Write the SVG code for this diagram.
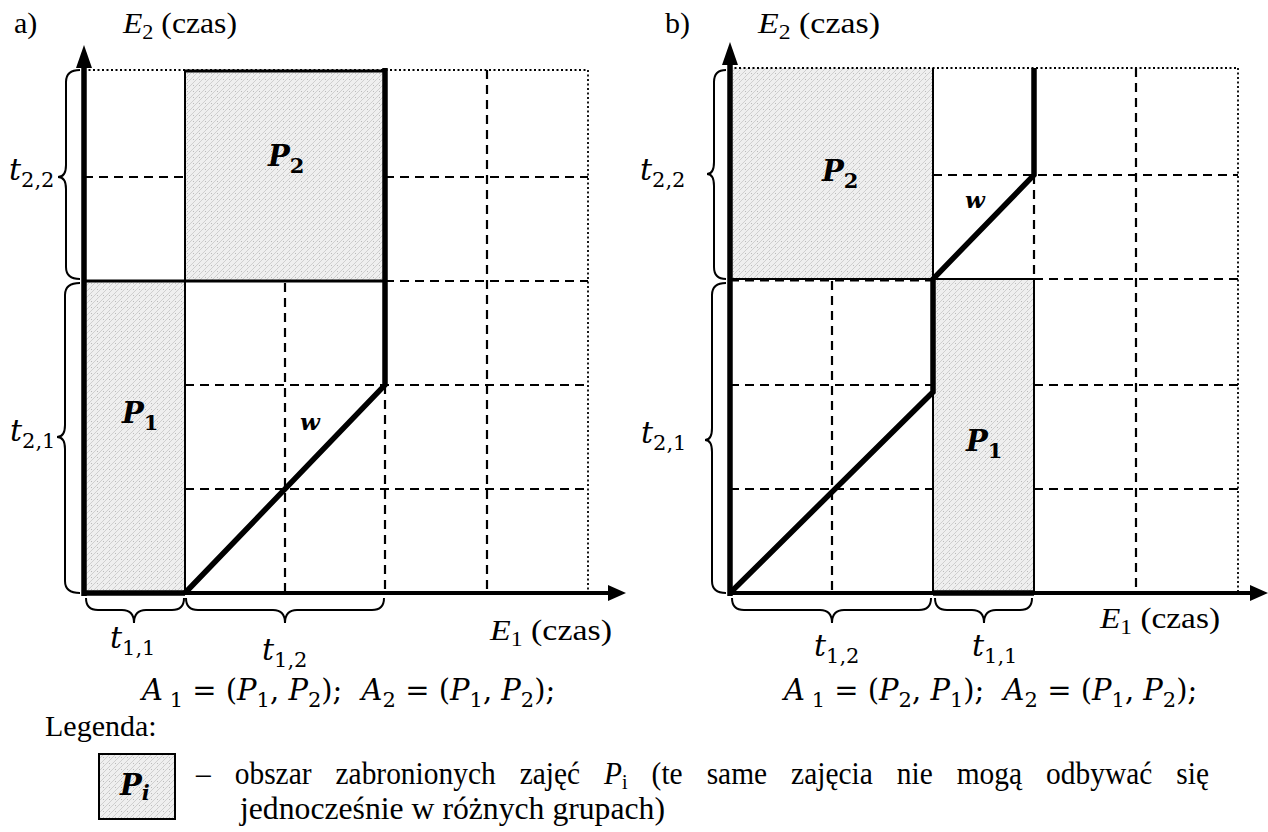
<svg xmlns="http://www.w3.org/2000/svg" width="1268" height="832" viewBox="0 0 1268 832">
<defs>
<pattern id="hatch" width="6" height="6" patternUnits="userSpaceOnUse">
<rect width="6" height="6" fill="#efefef"/>
<path d="M0,6 L6,0" stroke="#c6c6c6" stroke-width="0.8"/>
<circle cx="1.5" cy="1.5" r="0.5" fill="#aaa"/>
</pattern>
</defs>
<style>
.dash{stroke:#000;stroke-width:2.2;stroke-dasharray:9 6;fill:none}
.dot{stroke:#000;stroke-width:1.8;stroke-dasharray:2 2.5;fill:none}
.thin{stroke:#000;stroke-width:2;fill:none}
.thick{stroke:#000;stroke-width:5.5;fill:none;stroke-linejoin:miter}
.ax{stroke:#000;stroke-width:4;fill:none}
.br{stroke:#000;stroke-width:2;fill:none}
.shade{fill:url(#hatch);stroke:none}
text{font-family:"Liberation Serif","Times New Roman",serif;fill:#000}
.t{font-size:30px}
.it{font-style:italic}
.sub{font-size:21px;font-style:normal}
.mth{font-family:"DejaVu Serif","Liberation Serif",serif;font-size:29px}
.tl{font-family:"DejaVu Serif","Liberation Serif",serif;font-size:30px;font-style:italic}
.msub{font-size:21px;font-style:normal}
.lb{font-family:"DejaVu Serif","Liberation Serif",serif;font-size:29px;font-style:italic;font-weight:bold}
.lbs{font-size:21px;font-weight:bold;font-style:normal}
.leg{font-size:31px}
</style>

<!-- ===== Panel a ===== -->
<g id="panel-a-areas">
<rect class="shade" x="185" y="70" width="200" height="211"/>
<rect class="shade" x="84" y="281" width="101" height="312"/>
</g>
<g id="panel-a-grid">
<line class="dot" x1="84" y1="70" x2="588" y2="70"/>
<line class="dot" x1="588" y1="70" x2="588" y2="593"/>
<line class="dash" x1="84" y1="177" x2="185" y2="177"/>
<line class="dash" x1="385" y1="177" x2="588" y2="177"/>
<line class="dash" x1="385" y1="281" x2="588" y2="281"/>
<line class="dash" x1="185" y1="385" x2="588" y2="385"/>
<line class="dash" x1="185" y1="489" x2="588" y2="489"/>
<line class="dash" x1="285" y1="283" x2="285" y2="593"/>
<line class="dash" x1="385" y1="385" x2="385" y2="593"/>
<line class="dash" x1="487" y1="70" x2="487" y2="593"/>
</g>
<g id="node-a-P2">
<line class="thin" x1="185" y1="70" x2="185" y2="281"/>
<line class="thin" x1="185" y1="71" x2="385" y2="71" style="stroke-width:3"/>
<line class="thin" x1="84" y1="281" x2="385" y2="281" style="stroke-width:3"/>
<text class="lb" x="268" y="166">P<tspan class="lbs" dy="7">2</tspan></text>
</g>
<g id="node-a-P1">
<line class="thin" x1="185" y1="281" x2="185" y2="593"/>
<text class="lb" x="122" y="423">P<tspan class="lbs" dy="7">1</tspan></text>
</g>
<g id="connectors-a">
<line class="ax" x1="84" y1="593" x2="610" y2="593"/>
<polygon points="626,593 608,585 608,601" fill="#000"/>
<line class="thick" x1="84" y1="596" x2="84" y2="64"/>
<polygon points="84,45 76,68 92,68" fill="#000"/>
<line class="thick" x1="84" y1="593" x2="185" y2="593"/>
<polyline class="thick" points="185,593 385,385 385,68"/>
<text class="lb" x="300" y="430" style="font-size:23px">w</text>
</g>
<g id="braces-a">
<path class="br" d="M80,70 Q66,70 66,82 L66,165 Q66,177 58,177 Q66,177 66,189 L66,267 Q66,279 80,279"/>
<path class="br" d="M80,283 Q65,283 65,295 L65,425 Q65,437 57,437 Q65,437 65,449 L65,581 Q65,593 80,593"/>
<path class="br" d="M86,598 Q86,610 98,610 L122,610 Q134,610 134,623 Q134,610 146,610 L172,610 Q184,610 184,598"/>
<path class="br" d="M186,598 Q186,610 198,610 L273,610 Q285,610 285,623 Q285,610 297,610 L372,610 Q384,610 384,598"/>
<text class="tl" x="9" y="180">t<tspan class="msub" dy="7">2,2</tspan></text>
<text class="tl" x="10" y="441">t<tspan class="msub" dy="7">2,1</tspan></text>
<text class="tl" x="110" y="648">t<tspan class="msub" dy="7">1,1</tspan></text>
<text class="tl" x="262" y="660">t<tspan class="msub" dy="7">1,2</tspan></text>
</g>
<g id="labels-a">
<text class="t" x="14" y="33">a)</text>
<text class="t" x="123" y="33" textLength="114" lengthAdjust="spacingAndGlyphs"><tspan class="it">E</tspan><tspan class="sub" dy="6">2</tspan><tspan dy="-6"> (czas)</tspan></text>
<text class="t" x="490" y="640" textLength="122" lengthAdjust="spacingAndGlyphs"><tspan class="it">E</tspan><tspan class="sub" dy="6">1</tspan><tspan dy="-6"> (czas)</tspan></text>
<text class="mth" x="142" y="700"><tspan class="it">A</tspan><tspan class="msub" dy="7"> 1</tspan><tspan dy="-7"> = (</tspan><tspan class="it">P</tspan><tspan class="msub" dy="7">1</tspan><tspan dy="-7">, </tspan><tspan class="it">P</tspan><tspan class="msub" dy="7">2</tspan><tspan dy="-7">); </tspan><tspan class="it" dx="10">A</tspan><tspan class="msub" dy="7">2</tspan><tspan dy="-7"> = (</tspan><tspan class="it">P</tspan><tspan class="msub" dy="7">1</tspan><tspan dy="-7">, </tspan><tspan class="it">P</tspan><tspan class="msub" dy="7">2</tspan><tspan dy="-7">);</tspan></text>
</g>

<!-- ===== Panel b ===== -->
<g id="panel-b-areas">
<rect class="shade" x="730" y="68" width="203" height="211"/>
<rect class="shade" x="933" y="279" width="101" height="314"/>
</g>
<g id="panel-b-grid">
<line class="dot" x1="730" y1="68" x2="1238" y2="68"/>
<line class="dot" x1="1238" y1="68" x2="1238" y2="593"/>
<line class="dash" x1="933" y1="175" x2="1238" y2="175"/>
<line class="dash" x1="1034" y1="279" x2="1238" y2="279"/>
<line class="dash" x1="730" y1="385" x2="933" y2="385"/>
<line class="dash" x1="1034" y1="385" x2="1238" y2="385"/>
<line class="dash" x1="730" y1="489" x2="933" y2="489"/>
<line class="dash" x1="1034" y1="489" x2="1238" y2="489"/>
<line class="dash" x1="832" y1="281" x2="832" y2="593"/>
<line class="dash" x1="1034" y1="175" x2="1034" y2="279"/>
<line class="dash" x1="1136" y1="68" x2="1136" y2="593"/>
</g>
<g id="node-b-P2">
<line class="thin" x1="933" y1="68" x2="933" y2="279"/>
<line class="thin" x1="730" y1="279" x2="933" y2="279"/>
<line class="dash" x1="730" y1="280" x2="933" y2="280" style="stroke-width:3"/>
<text class="lb" x="822" y="181">P<tspan class="lbs" dy="7">2</tspan></text>
</g>
<g id="node-b-P1">
<line class="thin" x1="933" y1="279" x2="1034" y2="279"/>
<line class="thin" x1="1034" y1="279" x2="1034" y2="593"/>
<line class="thin" x1="933" y1="392" x2="933" y2="593"/>
<text class="lb" x="966" y="451">P<tspan class="lbs" dy="7">1</tspan></text>
</g>
<g id="connectors-b">
<line class="ax" x1="730" y1="593" x2="1252" y2="593"/>
<polygon points="1268,593 1250,585 1250,601" fill="#000"/>
<line class="thick" x1="730" y1="596" x2="730" y2="60"/>
<polygon points="730,42 722,65 738,65" fill="#000"/>
<line class="thick" x1="933" y1="593" x2="1034" y2="593"/>
<polyline class="thick" points="730,593 933,392 933,279 1034,175 1034,68"/>
<text class="lb" x="965" y="208" style="font-size:23px">w</text>
</g>
<g id="braces-b">
<path class="br" d="M726,70 Q714,70 714,82 L714,162 Q714,174 707,174 Q714,174 714,186 L714,267 Q714,279 726,279"/>
<path class="br" d="M726,283 Q712,283 712,295 L712,428 Q712,440 705,440 Q712,440 712,452 L712,581 Q712,593 726,593"/>
<path class="br" d="M732,598 Q732,610 744,610 L820,610 Q832,610 832,623 Q832,610 844,610 L919,610 Q931,610 931,598"/>
<path class="br" d="M935,598 Q935,610 947,610 L972,610 Q984,610 984,623 Q984,610 996,610 L1020,610 Q1032,610 1032,598"/>
<text class="tl" x="640" y="180">t<tspan class="msub" dy="7">2,2</tspan></text>
<text class="tl" x="641" y="443">t<tspan class="msub" dy="7">2,1</tspan></text>
<text class="tl" x="814" y="656">t<tspan class="msub" dy="7">1,2</tspan></text>
<text class="tl" x="972" y="656">t<tspan class="msub" dy="7">1,1</tspan></text>
</g>
<g id="labels-b">
<text class="t" x="665" y="33">b)</text>
<text class="t" x="758" y="33" textLength="122" lengthAdjust="spacingAndGlyphs"><tspan class="it">E</tspan><tspan class="sub" dy="6">2</tspan><tspan dy="-6"> (czas)</tspan></text>
<text class="t" x="1100" y="628" textLength="120" lengthAdjust="spacingAndGlyphs"><tspan class="it">E</tspan><tspan class="sub" dy="6">1</tspan><tspan dy="-6"> (czas)</tspan></text>
<text class="mth" x="784" y="700"><tspan class="it">A</tspan><tspan class="msub" dy="7"> 1</tspan><tspan dy="-7"> = (</tspan><tspan class="it">P</tspan><tspan class="msub" dy="7">2</tspan><tspan dy="-7">, </tspan><tspan class="it">P</tspan><tspan class="msub" dy="7">1</tspan><tspan dy="-7">); </tspan><tspan class="it" dx="10">A</tspan><tspan class="msub" dy="7">2</tspan><tspan dy="-7"> = (</tspan><tspan class="it">P</tspan><tspan class="msub" dy="7">1</tspan><tspan dy="-7">, </tspan><tspan class="it">P</tspan><tspan class="msub" dy="7">2</tspan><tspan dy="-7">);</tspan></text>
</g>

<!-- ===== Legend ===== -->
<g id="legend">
<text class="leg" x="45" y="736" style="font-size:30px">Legenda:</text>
<rect x="99" y="754" width="76" height="65" fill="url(#hatch)" stroke="#000" stroke-width="2"/>
<text class="lb" x="120" y="795">P<tspan class="lbs" dy="5" style="font-style:italic">i</tspan></text>
<g transform="translate(196,784) scale(0.95,1)">
<text class="leg" x="0" y="0" style="word-spacing:17.5px">– obszar zabronionych zajęć <tspan class="it">P</tspan><tspan class="sub it" dy="5" style="font-size:21px">i</tspan><tspan dy="-5"> (te same zajęcia nie mogą  odbywać się</tspan></text>
</g>
<text class="leg" x="240" y="819" textLength="425" lengthAdjust="spacingAndGlyphs">jednocześnie w różnych grupach)</text>
</g>
</svg>
